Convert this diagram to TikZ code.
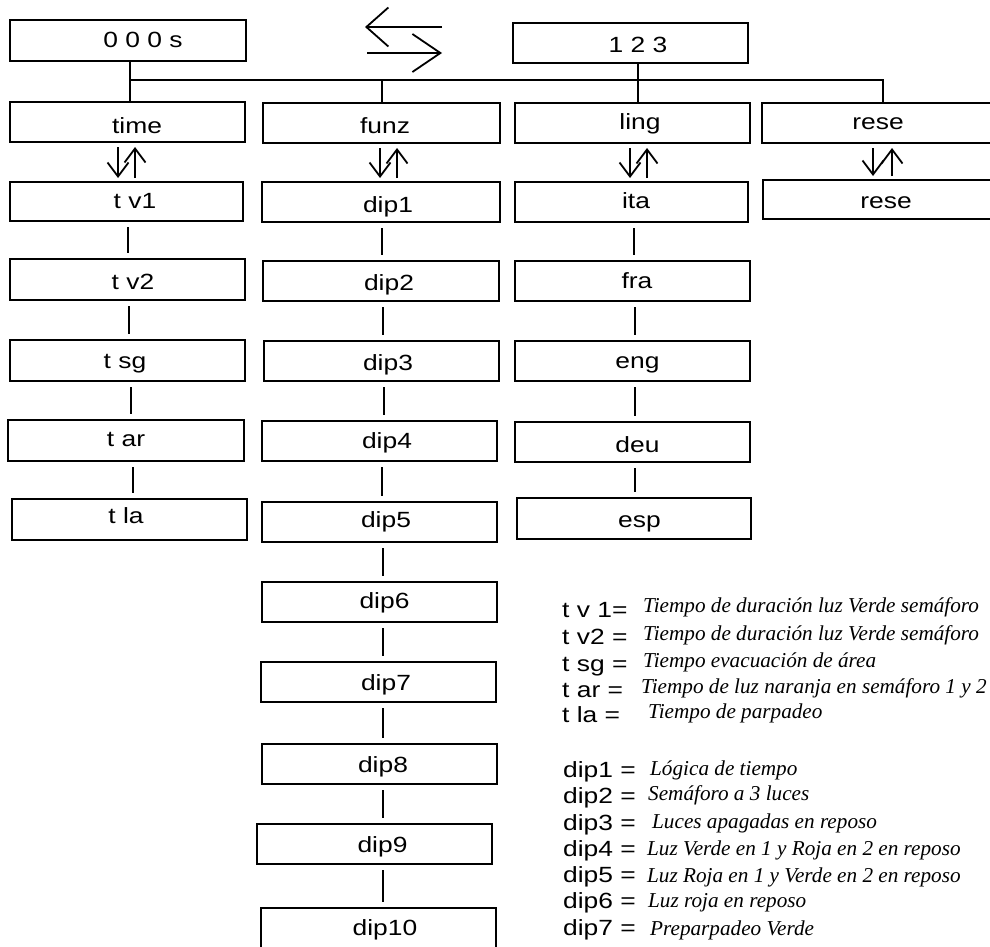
\documentclass[tikz,border=0pt]{standalone}
\usepackage{fontspec}
\setmainfont{Liberation Serif}
\newfontfamily\bfnt[FakeStretch=1.2]{Liberation Sans}
\newfontfamily\itfnt{Liberation Serif}
\usetikzlibrary{arrows.meta,calc}
\newcommand\mybox[8]{%
  \node[box, minimum width={#4-#2}, minimum height={#5-#3}] (#1) at ({(#2+#4)/2},{(#3+#5)/2}) {};
  \node[lbl] (#1t) at (#6,#7) {#8};}
\newcommand\vlink[3]{%
  \draw[conn] ($(#1.south)+(#3,6)$) -- ($(#1.south |- #2.north)+(#3,-6)$);}
\newcommand\updown[4]{%
  \draw[ud] ($(#1.south)+(#3,5)$) -- ($(#1.south |- #2.north)+(#3,-4)$);
  \draw[ud] ($(#1.south |- #2.north)+(#4,-4)$) -- ($(#1.south)+(#4,5)$);}
\begin{document}
\begin{tikzpicture}[x=1pt,y=-1pt,
  box/.style={draw, line width=2pt, inner sep=0pt, outer sep=0pt},
  lbl/.style={anchor=base, inner sep=0pt, font=\bfnt\fontsize{22}{26}\selectfont},
  conn/.style={line width=2pt},
  bus/.style={line width=1.8pt},
  ud/.style={line width=1.8pt, -{Straight Barb[length=14pt,width=21pt]}},
  key/.style={anchor=base west, inner sep=0pt, font=\bfnt\fontsize{22}{26}\selectfont},
  desc/.style={anchor=base west, inner sep=0pt, font=\itfnt\itshape\fontsize{21.2}{26}\selectfont}]
\useasboundingbox (0,0) rectangle (990,947);
\clip (0,0) rectangle (990,947);
\fill[white] (0,0) rectangle (990,947);

% top boxes
\mybox{o}{10}{20}{246}{61}{143}{48}{0 0 0 s}
\mybox{n}{513}{23}{748}{63}{638}{53}{1 2 3}
% second row
\mybox{time}{10}{102}{245}{142}{137}{133}{time}
\mybox{funz}{263}{103}{500}{143}{385}{133}{funz}
\mybox{ling}{515}{103}{750}{143}{640}{130}{ling}
\mybox{rese}{762}{103}{997}{143}{878}{130}{rese}
% column 1
\mybox{tv1}{10}{182}{243}{221}{135}{208}{t v1}
\mybox{tv2}{10}{259}{245}{300}{133}{289}{t v2}
\mybox{tsg}{10}{340}{245}{381}{125}{368}{t sg}
\mybox{tar}{8}{420}{244}{461}{126}{446}{t ar}
\mybox{tla}{12}{499}{247}{540}{126}{523}{t la}
% column 2
\mybox{dip1}{262}{182}{500}{222}{388}{212}{dip1}
\mybox{dip2}{263}{261}{499}{301}{389}{290}{dip2}
\mybox{dip3}{264}{341}{499}{381}{388}{370}{dip3}
\mybox{dip4}{262}{421}{497}{461}{387}{448}{dip4}
\mybox{dip5}{262}{502}{497}{542}{386}{527}{dip5}
\mybox{dip6}{262}{582}{497}{622}{384.5}{608}{dip6}
\mybox{dip7}{261}{662}{496}{702}{386}{690}{dip7}
\mybox{dip8}{262}{744}{497}{784}{383}{772}{dip8}
\mybox{dip9}{257}{824}{492}{864}{382.5}{852}{dip9}
\mybox{dip10}{261}{908}{496}{952}{385}{935}{dip10}
% column 3
\mybox{ita}{515}{182}{748}{222}{636}{208}{ita}
\mybox{fra}{515}{261}{750}{301}{637}{288}{fra}
\mybox{eng}{515}{341}{750}{381}{637.5}{368}{eng}
\mybox{deu}{515}{422}{750}{462}{637.5}{452}{deu}
\mybox{esp}{517}{498}{751}{539}{639.5}{527}{esp}
% column 4
\mybox{reseb}{763}{180}{997}{219}{886}{208}{rese}

% bus
\coordinate (b1) at (130,80);
\coordinate (b4) at (883,80);
\draw[conn] ($(o.south)+(2,0)$) -- ($(time.north)+(2.5,0)$);
\draw[bus] (b1) -- (b4) -- (b4 |- rese.north);
\draw[conn] (b1 -| funz.north) -- (funz.north);
\draw[conn] ($(n.south)+(7.5,0)$) -- ($(ling.north)+(5.5,0)$);

% big exchange arrows
\coordinate (la1) at (442,27);
\coordinate (la2) at (365,27);
\coordinate (ra1) at (367,53);
\coordinate (ra2) at (442,53);
\draw[line width=1.8pt, -{Straight Barb[length=22pt,width=39pt]}] (la1) -- (la2);
\draw[line width=1.8pt, -{Straight Barb[length=28pt,width=38pt]}] (ra1) -- (ra2);

% up/down arrows
\updown{time}{tv1}{-9.5}{7.5}
\updown{funz}{dip1}{-1.5}{15.5}
\updown{ling}{ita}{-2.5}{14.5}
\updown{rese}{reseb}{-6.5}{12.5}

% column links
\vlink{tv1}{tv2}{1.5}
\vlink{tv2}{tsg}{1.5}
\vlink{tsg}{tar}{3.5}
\vlink{tar}{tla}{7}
\vlink{dip1}{dip2}{1}
\vlink{dip2}{dip3}{2}
\vlink{dip3}{dip4}{2.5}
\vlink{dip4}{dip5}{2.5}
\vlink{dip5}{dip6}{3.5}
\vlink{dip6}{dip7}{3.5}
\vlink{dip7}{dip8}{4.5}
\vlink{dip8}{dip9}{3.5}
\vlink{dip9}{dip10}{8.5}
\vlink{ita}{fra}{2.5}
\vlink{fra}{eng}{2.5}
\vlink{eng}{deu}{2.5}
\vlink{deu}{esp}{2.5}

% legend
\node[key] (k1) at (562,617) {t v 1=};
\node[key] (k2) at (562,644) {t v2 =};
\node[key] (k3) at (562,671) {t sg =};
\node[key] (k4) at (562,697) {t ar =};
\node[key] (k5) at (562,722) {t la =};
\node[desc] (d1) at (643,612) {Tiempo de duración luz Verde semáforo};
\node[desc] (d2) at (643,640) {Tiempo de duración luz Verde semáforo};
\node[desc] (d3) at (643,667) {Tiempo evacuación de área};
\node[desc] (d4) at (641,693) {Tiempo de luz naranja en semáforo 1 y 2};
\node[desc] (d5) at (648,718) {Tiempo de parpadeo};

\node[key] (p1) at (563,777) {dip1 =};
\node[key] (p2) at (563,803) {dip2 =};
\node[key] (p3) at (563,830) {dip3 =};
\node[key] (p4) at (563,856) {dip4 =};
\node[key] (p5) at (563,882) {dip5 =};
\node[key] (p6) at (563,908) {dip6 =};
\node[key] (p7) at (563,935) {dip7 =};
\node[desc] (q1) at (650,775) {Lógica de tiempo};
\node[desc] (q2) at (648,800) {Semáforo a 3 luces};
\node[desc] (q3) at (652,828) {Luces apagadas en reposo};
\node[desc] (q4) at (647,855) {Luz Verde en 1 y Roja en 2 en reposo};
\node[desc] (q5) at (647,882) {Luz Roja en 1 y Verde en 2 en reposo};
\node[desc] (q6) at (648,907) {Luz roja en reposo};
\node[desc] (q7) at (650,935) {Preparpadeo Verde};
\end{tikzpicture}
\end{document}
